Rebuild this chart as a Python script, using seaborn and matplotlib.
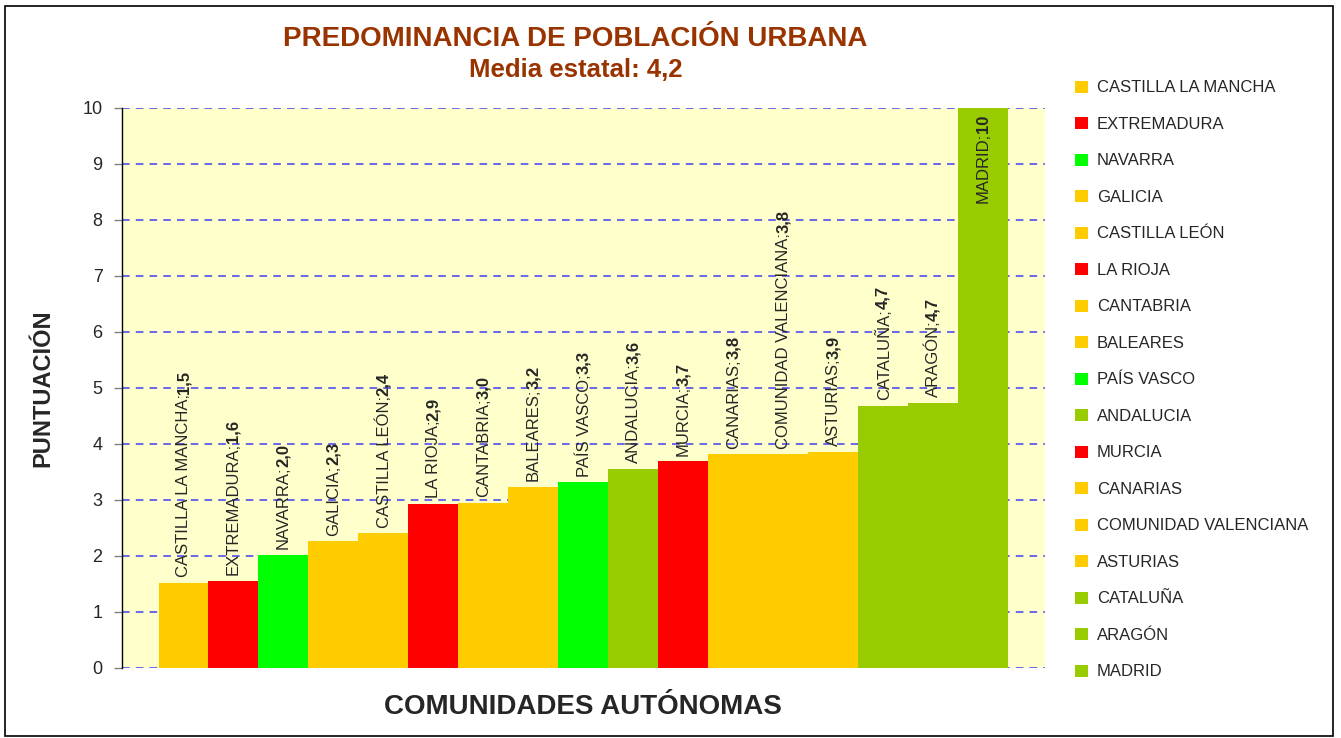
import matplotlib
matplotlib.use("Agg")
import matplotlib.pyplot as plt
import matplotlib.patches as mpatches
import seaborn as sns
import pandas as pd

# Datos
comunidades = ["CASTILLA LA MANCHA", "EXTREMADURA", "NAVARRA", "GALICIA", "CASTILLA LEÓN",
               "LA RIOJA", "CANTABRIA", "BALEARES", "PAÍS VASCO", "ANDALUCIA", "MURCIA",
               "CANARIAS", "COMUNIDAD VALENCIANA", "ASTURIAS", "CATALUÑA", "ARAGÓN", "MADRID"]
puntuacion = [1.52, 1.56, 2.02, 2.26, 2.40, 2.93, 2.95, 3.23, 3.31, 3.55, 3.69,
              3.81, 3.81, 3.86, 4.68, 4.73, 10.0]
valores_texto = ["1,5", "1,6", "2,0", "2,3", "2,4", "2,9", "3,0", "3,2", "3,3", "3,6", "3,7",
                 "3,8", "3,8", "3,9", "4,7", "4,7", "10"]
grupo = ["naranja", "rojo", "verde", "naranja", "naranja", "rojo", "naranja", "naranja", "verde",
         "oliva", "rojo", "naranja", "naranja", "naranja", "oliva", "oliva", "oliva"]
colores_grupo = {"naranja": "#FFCC00", "rojo": "#FF0000", "verde": "#00FF00", "oliva": "#99CC00"}

df = pd.DataFrame({"comunidad": comunidades, "puntuacion": puntuacion, "grupo": grupo})
paleta = {c: colores_grupo[g] for c, g in zip(comunidades, grupo)}

sns.set_style("white")
plt.rcParams["font.family"] = ["Liberation Sans", "DejaVu Sans"]

fig = plt.figure(figsize=(13.41, 7.38), dpi=100)
ax = fig.add_axes([0.091, 0.095, 0.688, 0.759])

sns.barplot(data=df, x="comunidad", y="puntuacion", hue="comunidad", palette=paleta,
            width=1.0, legend=False, saturation=1, ax=ax, linewidth=0)

ax.set_facecolor("#FFFFCC")
ax.set_xlim(-1.23, 17.23)
ax.set_ylim(0, 10)
ax.set_yticks(range(0, 11))
ax.yaxis.grid(True, color="#0000FF", linestyle=(0, (5, 4)), linewidth=1.1, alpha=0.75)
ax.set_axisbelow(True)
ax.set_xticks([])
for s in ["top", "right", "bottom"]:
    ax.spines[s].set_visible(False)
ax.spines["left"].set_color("black")
ax.spines["left"].set_linewidth(1.0)
ax.tick_params(axis="y", which="both", left=True, direction="out", length=6, width=1,
               color="#808080", labelsize=13, pad=8)

ax.set_xlabel("COMUNIDADES AUTÓNOMAS", fontsize=20, fontweight="bold", labelpad=19)
ax.set_ylabel("PUNTUACIÓN", fontsize=17, fontweight="bold", labelpad=20)

fig.text(0.429, 0.947, "PREDOMINANCIA DE POBLACIÓN URBANA", ha="center", va="center",
         fontsize=20, fontweight="bold", color="#993300")
fig.text(0.429, 0.905, "Media estatal: 4,2", ha="center", va="center",
         fontsize=18.5, fontweight="bold", color="#993300")

# Etiquetas de datos: nombre normal + valor en negrita
fig.canvas.draw()
renderer = fig.canvas.get_renderer()
pt = 72.0 / fig.dpi
for i, (nombre, h, v) in enumerate(zip(comunidades, puntuacion, valores_texto)):
    if h >= 9.5:
        t = ax.annotate(v, xy=(i, h), xytext=(0, -5), textcoords="offset points",
                        rotation=90, ha="center", va="top", fontsize=12, fontweight="bold")
        bb = t.get_window_extent(renderer)
        ax.annotate(nombre + ";", xy=(i, h), xytext=(0, -5 - bb.height * pt),
                    textcoords="offset points", rotation=90, ha="center", va="top", fontsize=12)
    else:
        t = ax.annotate(nombre + ";", xy=(i, h), xytext=(0, 4), textcoords="offset points",
                        rotation=90, ha="center", va="bottom", fontsize=12)
        bb = t.get_window_extent(renderer)
        ax.annotate(v, xy=(i, h), xytext=(0, 4 + bb.height * pt), textcoords="offset points",
                    rotation=90, ha="center", va="bottom", fontsize=12, fontweight="bold")

# Leyenda
handles = [mpatches.Patch(facecolor=paleta[c], edgecolor="none", label=c) for c in comunidades]
fig.legend(handles=handles, loc="upper left", bbox_to_anchor=(0.797, 0.900), frameon=False,
           fontsize=12, handlelength=0.75, handleheight=0.75, handletextpad=0.55,
           labelspacing=1.29, borderaxespad=0)

# Marco exterior
fig.patches.append(mpatches.Rectangle((0.004, 0.003), 0.99, 0.989, transform=fig.transFigure,
                                      fill=False, edgecolor="black", linewidth=1.2))

fig.savefig("out.png", dpi=100)
